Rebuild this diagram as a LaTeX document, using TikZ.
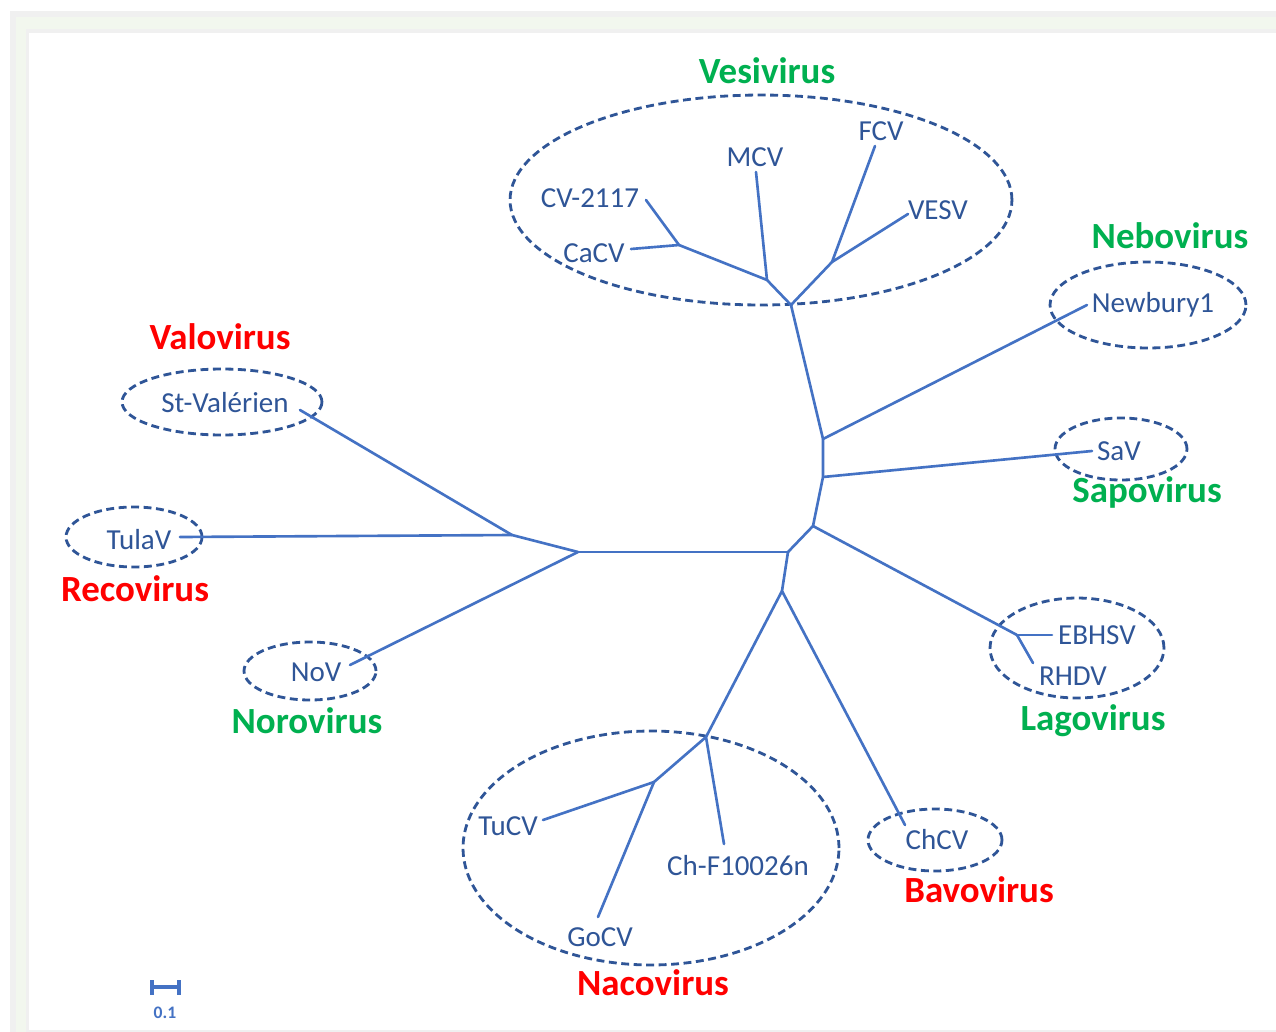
\documentclass[tikz,border=0pt]{standalone}
\usepackage{fontspec}
\setmainfont{Carlito}
\usetikzlibrary{positioning}
\definecolor{treeblue}{HTML}{4472C4}
\definecolor{labelblue}{HTML}{2F5597}
\definecolor{genusgreen}{HTML}{00B050}
\definecolor{genusred}{HTML}{FF0000}
\definecolor{pagegrey}{HTML}{F0F0F0}
\definecolor{palegreen}{HTML}{F2F7EE}
\tikzstyle{branch} = [draw=treeblue, line width=1.5pt, line join=round, line cap=round]
\tikzstyle{taxon} = [text=labelblue, font=\fontsize{16.5}{19}\selectfont, inner sep=1pt]
\tikzstyle{genusg} = [text=genusgreen, font=\fontsize{21}{25}\selectfont\bfseries, inner sep=0pt]
\tikzstyle{genusr} = [text=genusred, font=\fontsize{21}{25}\selectfont\bfseries, inner sep=0pt]
\tikzstyle{clade} = [draw=labelblue, dash pattern=on 4.5pt off 2.6pt, line width=1.6pt]

\begin{document}
\begin{tikzpicture}[x=0.02cm, y=-0.02cm]
 \useasboundingbox (0,0) rectangle (1276,1032);
 % page frame
 \fill[white] (0,0) rectangle (1276,1032);
 \fill[pagegrey] (10,11) rectangle (1276,1032);
 \fill[palegreen] (16,17) rectangle (1276,29);
 \fill[palegreen] (16,17) rectangle (26,1032);
 \fill[white] (29,33) rectangle (1276,1030);

 % clade ellipses
 \draw[clade] (761,200) ellipse [x radius=5.02cm, y radius=2.1cm];
 \draw[clade] (1148,305) ellipse [x radius=1.96cm, y radius=0.86cm];
 \draw[clade] (1121,449) ellipse [x radius=1.32cm, y radius=0.62cm];
 \draw[clade] (1077,648) ellipse [x radius=1.74cm, y radius=1.0cm];
 \draw[clade] (935,840) ellipse [x radius=1.34cm, y radius=0.62cm];
 \draw[clade] (651,848) ellipse [x radius=3.76cm, y radius=2.34cm];
 \draw[clade] (310,671) ellipse [x radius=1.32cm, y radius=0.58cm];
 \draw[clade] (134,537) ellipse [x radius=1.36cm, y radius=0.6cm];
 \draw[clade] (222,402) ellipse [x radius=2.0cm, y radius=0.66cm];

 % internal nodes
 \coordinate (nL) at (578,552);
 \coordinate (nLL) at (512,535);
 \coordinate (nR) at (788,552);
 \coordinate (nR1) at (813,526);
 \coordinate (nR2) at (823,477);
 \coordinate (nR3) at (823,439);
 \coordinate (nV) at (791,305);
 \coordinate (nV1) at (767,280);
 \coordinate (nV2) at (679,245);
 \coordinate (nV3) at (832,262);
 \coordinate (nB) at (782,591);
 \coordinate (nN) at (706,737);
 \coordinate (nN1) at (654,782);
 \coordinate (nLg) at (1017,635);

 % tip ends
 \coordinate (tStV) at (300,410);
 \coordinate (tTula) at (180,537);
 \coordinate (tNoV) at (350,665);
 \coordinate (tCaCV) at (631,249);
 \coordinate (tCV) at (646,200);
 \coordinate (tMCV) at (756,172);
 \coordinate (tFCV) at (875,146);
 \coordinate (tVESV) at (908,214);
 \coordinate (tNew) at (1087,305);
 \coordinate (tSaV) at (1092,451);
 \coordinate (tEBH) at (1052,635);
 \coordinate (tRHDV) at (1033,663);
 \coordinate (tChCV) at (905,825);
 \coordinate (tChF) at (724,844);
 \coordinate (tTuCV) at (543,820);
 \coordinate (tGoCV) at (598,917);

 % branches
 \draw[branch] (nL) -- (nR);
 \draw[branch] (nL) -- (nLL);
 \draw[branch] (nLL) -- (tStV);
 \draw[branch] (nLL) -- (tTula);
 \draw[branch] (nL) -- (tNoV);
 \draw[branch] (nR) -- (nR1) -- (nR2) -- (nR3) -- (nV);
 \draw[branch] (nR1) -- (nLg);
 \draw[branch] (nLg) -- (tEBH);
 \draw[branch] (nLg) -- (tRHDV);
 \draw[branch] (nR2) -- (tSaV);
 \draw[branch] (nR3) -- (tNew);
 \draw[branch] (nV) -- (nV1) -- (nV2);
 \draw[branch] (nV2) -- (tCaCV);
 \draw[branch] (nV2) -- (tCV);
 \draw[branch] (nV1) -- (tMCV);
 \draw[branch] (nV) -- (nV3);
 \draw[branch] (nV3) -- (tFCV);
 \draw[branch] (nV3) -- (tVESV);
 \draw[branch] (nR) -- (nB);
 \draw[branch] (nB) -- (tChCV);
 \draw[branch] (nB) -- (nN);
 \draw[branch] (nN) -- (tChF);
 \draw[branch] (nN) -- (nN1);
 \draw[branch] (nN1) -- (tTuCV);
 \draw[branch] (nN1) -- (tGoCV);

 % taxa
 \node (stval) [taxon] at (225,403) {St-Valérien};
 \node (tulav) [taxon] at (139,540) {TulaV};
 \node (nov) [taxon] at (316,672) {NoV};
 \node (cv2117) [taxon] at (590,198) {CV-2117};
 \node (cacv) [taxon] at (594,253) {CaCV};
 \node (mcv) [taxon] at (755,157) {MCV};
 \node (fcv) [taxon] at (881,131) {FCV};
 \node (vesv) [taxon] at (938,210) {VESV};
 \node (newbury) [taxon] at (1153,305) {Newbury1};
 \node (sav) [taxon] at (1119,451) {SaV};
 \node (ebhsv) [taxon] at (1097,635) {EBHSV};
 \node (rhdv) [taxon] at (1073,676) {RHDV};
 \node (chcv) [taxon] at (937,840) {ChCV};
 \node (chf) [taxon] at (738,866) {Ch-F10026n};
 \node (tucv) [taxon] at (508,826) {TuCV};
 \node (gocv) [taxon] at (600,937) {GoCV};

 % genera
 \node (vesi) [genusg] at (767,71) {Vesivirus};
 \node (nebo) [genusg] at (1170,236) {Nebovirus};
 \node (sapo) [genusg] at (1147,492) {Sapovirus};
 \node (lago) [genusg] at (1093,721) {Lagovirus};
 \node (noro) [genusg] at (307,721) {Norovirus};
 \node (bavo) [genusr] at (979,890) {Bavovirus};
 \node (naco) [genusr] at (653,983) {Nacovirus};
 \node (reco) [genusr] at (135,589) {Recovirus};
 \node (valo) [genusr] at (220,337) {Valovirus};

 % scale bar
 \coordinate (sbL) at (152,987);
 \coordinate (sbR) at (179,987);
 \coordinate (sbLt) at (152,980);
 \coordinate (sbLb) at (152,995);
 \coordinate (sbRt) at (179,980);
 \coordinate (sbRb) at (179,995);
 \draw[branch, line width=1.8pt, line cap=butt] (sbL) -- (sbR);
 \draw[branch, line width=1.8pt, line cap=butt] (sbLt) -- (sbLb);
 \draw[branch, line width=1.8pt, line cap=butt] (sbRt) -- (sbRb);
 \node (sblabel) [text=treeblue, font=\fontsize{10}{12}\selectfont\bfseries, inner sep=0pt] at (165,1013) {0.1};
\end{tikzpicture}
\end{document}
